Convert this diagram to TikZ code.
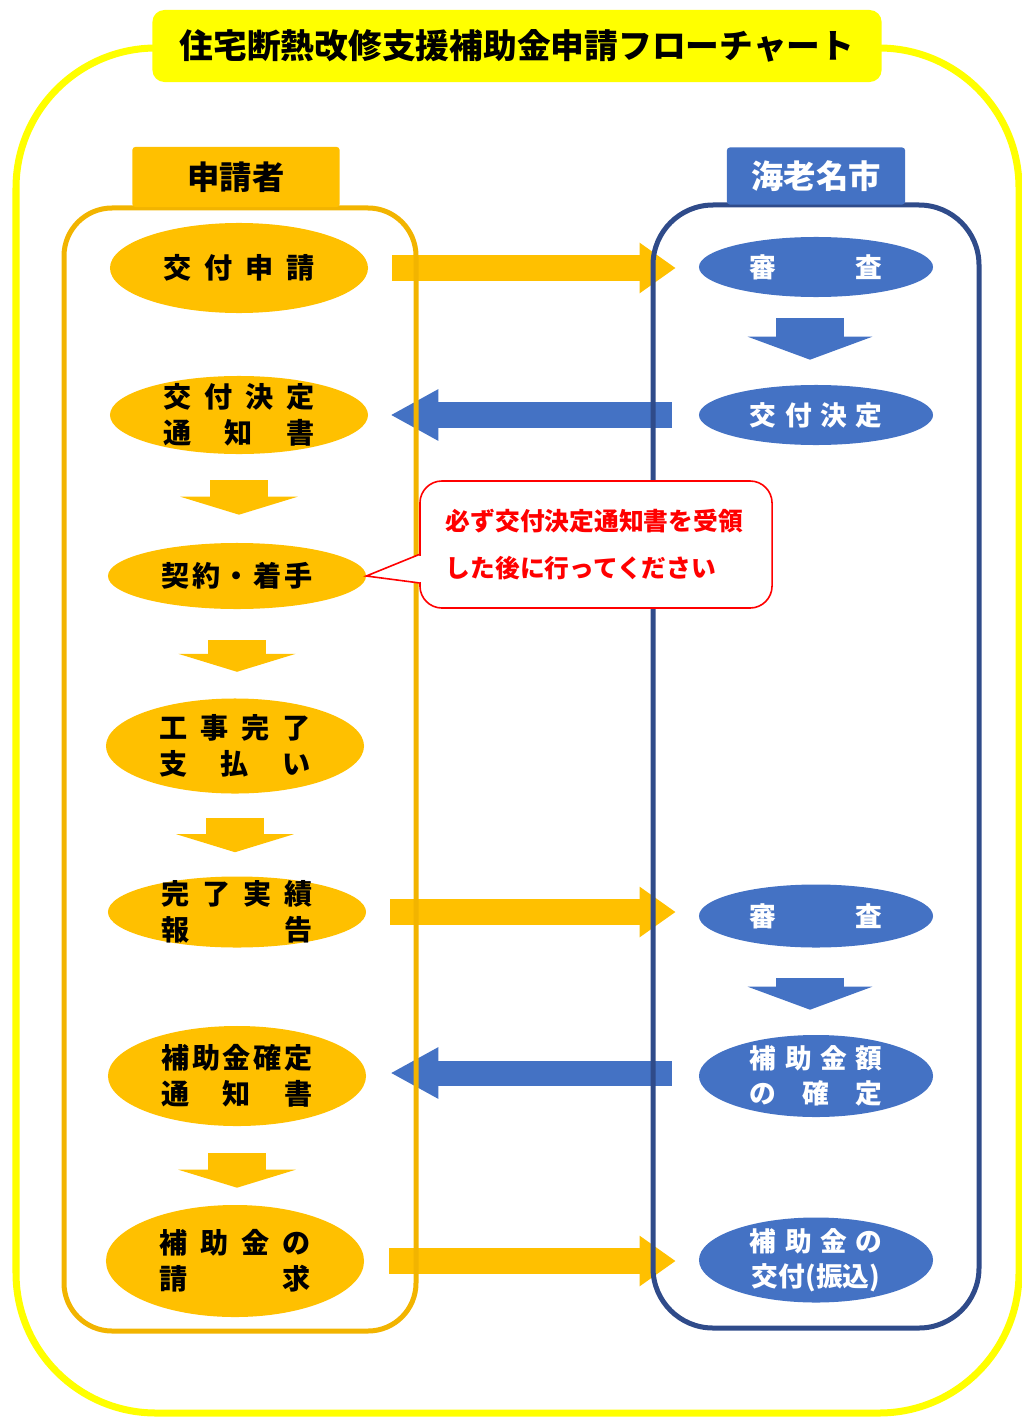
\documentclass[tikz,border=0pt]{standalone}
\usepackage{fontspec}
\newfontfamily\jp{Noto Sans CJK JP}
\usetikzlibrary{arrows.meta,shapes.geometric,positioning}
\definecolor{myorange}{HTML}{FFC000}
\definecolor{laneorange}{HTML}{F2B400}
\definecolor{myblue}{HTML}{4472C4}
\definecolor{lanenavy}{HTML}{2F4B8A}
\definecolor{lemon}{HTML}{FFFF00}
\newcommand{\stepl}[1]{\makebox[108pt][s]{#1}}
\newcommand{\stepr}[1]{\makebox[94pt][s]{#1}}
\tikzset{
  lstep/.style={ellipse, fill=myorange, inner sep=0pt, minimum width=6.45cm},
  rstep/.style={ellipse, fill=myblue, inner sep=0pt, minimum width=5.85cm},
  ltext/.style={font=\jp\bfseries\fontsize{20}{25.6}\selectfont, align=center, text=black, inner sep=0pt},
  rtext/.style={font=\jp\bfseries\fontsize{19}{25}\selectfont, align=center, text=white, inner sep=0pt},
  title/.style={fill=lemon, rounded corners=0.3cm, minimum width=18.225cm, minimum height=1.8cm,
    font=\jp\bfseries\fontsize{24}{28}\selectfont},
  lhead/.style={fill=myorange, rounded corners=2pt, minimum width=5.175cm, minimum height=1.5cm,
    font=\jp\bfseries\fontsize{23}{26}\selectfont},
  rhead/.style={fill=myblue, text=white, rounded corners=2pt, minimum width=4.45cm, minimum height=1.425cm,
    font=\jp\bfseries\fontsize{23}{26}\selectfont},
  oarrow/.style={myorange, line width=0.65cm, -{Triangle[length=0.9cm,width=1.2cm]}},
  barrow/.style={myblue, line width=0.625cm, -{Triangle[length=1.2cm,width=1.2cm]}},
  odown/.style={myorange, line width=1.425cm, -{Triangle[length=0.45cm,width=2.925cm]}},
  bdown/.style={myblue, line width=1.7cm, -{Triangle[length=0.575cm,width=3.1cm]}},
  lane/.style={line width=0.125cm},
  note/.style={draw=red, fill=white, line width=0.04cm, rounded corners=0.55cm,
    minimum width=8.8cm, minimum height=3.175cm, text width=7.5cm, align=left, text=red,
    font=\jp\bfseries\fontsize{17.6}{33.4}\selectfont}
}
\begin{document}
\begin{tikzpicture}[x=0.025cm,y=-0.025cm]
\useasboundingbox (0,0) rectangle (1021,1418);
\draw[lemon, line width=0.175cm, rounded corners=3.5cm] (16,48) rectangle (1019,1413);
\node[title] (head) at (517,46) {住宅断熱改修支援補助金申請フローチャート};

\node[lstep, minimum height=2.25cm] (a1) at (239,268) {};
\node[lstep, minimum height=1.95cm] (a2) at (239,415) {};
\node[lstep, minimum height=1.65cm] (a3) at (237,576) {};
\node[lstep, minimum height=2.375cm] (a4) at (235,746) {};
\node[lstep, minimum height=1.775cm] (a5) at (237,912) {};
\node[lstep, minimum height=2.5cm] (a6) at (237,1076) {};
\node[lstep, minimum height=2.8cm] (a7) at (235,1261) {};
\node[ltext] (a1t) at (a1) {\stepl{交\hfill 付\hfill 申\hfill 請}};
\node[ltext] (a2t) at (a2) {\stepl{交\hfill 付\hfill 決\hfill 定}\\\stepl{通\hfill 知\hfill 書}};
\node[ltext] (a3t) at (a3) {\stepl{契\hfill 約\hfill ・\hfill 着\hfill 手}};
\node[ltext] (a4t) at (a4) {\stepl{工\hfill 事\hfill 完\hfill 了}\\\stepl{支\hfill 払\hfill い}};
\node[ltext] (a5t) at (a5) {\stepl{完\hfill 了\hfill 実\hfill 績}\\\stepl{報\hfill 告}};
\node[ltext] (a6t) at (a6) {\stepl{補\hfill 助\hfill 金\hfill 確\hfill 定}\\\stepl{通\hfill 知\hfill 書}};
\node[ltext] (a7t) at (a7) {\stepl{補\hfill 助\hfill 金\hfill の}\\\stepl{請\hfill 求}};

\node[rstep, minimum height=1.5cm] (r1) at (816,267) {};
\node[rstep, minimum height=1.5cm] (r2) at (816,415) {};
\node[rstep, minimum height=1.575cm] (r3) at (816,916) {};
\node[rstep, minimum height=2.05cm] (r4) at (816,1076) {};
\node[rstep, minimum height=2.125cm] (r5) at (816,1260) {};
\node[rtext] (r1t) at (r1) {\stepr{審\hfill 査}};
\node[rtext] (r2t) at (r2) {\stepr{交\hfill 付\hfill 決\hfill 定}};
\node[rtext] (r3t) at (r3) {\stepr{審\hfill 査}};
\node[rtext] (r4t) at (r4) {\stepr{補\hfill 助\hfill 金\hfill 額}\\\stepr{の\hfill 確\hfill 定}};
\node[rtext] (r5t) at (r5) {\stepr{補\hfill 助\hfill 金\hfill の}\\\stepr{\hfill 交付(振込)\hfill}};

\draw[oarrow, shorten <=0.6cm, shorten >=0.575cm] (a1.east) -- (a1.east -| r1.west);
\draw[barrow, shorten <=0.675cm, shorten >=0.55cm] (r2.west) -- (r2.west -| a2.east);
\draw[oarrow, shorten <=0.6cm, shorten >=0.575cm] (a5.east) -- (a5.east -| r3.west);
\draw[barrow, shorten <=0.675cm, shorten >=0.6cm] ([yshift=0.075cm]r4.west) -- ([yshift=0.075cm]r4.west -| a6.east);
\draw[oarrow, shorten <=0.625cm, shorten >=0.575cm] (a7.east) -- (a7.east -| r5.west);

\draw[odown, shorten <=0.65cm, shorten >=0.7cm] (a2.south) -- (a2.south |- a3.north);
\draw[odown, shorten <=0.775cm, shorten >=0.66cm] (a3.south) -- (a3.south |- a4.north);
\draw[odown, shorten <=0.6cm, shorten >=0.6cm] (a4.south) -- (a4.south |- a5.north);
\draw[odown, shorten <=0.675cm, shorten >=0.425cm] (a6.south) -- (a6.south |- a7.north);
\draw[bdown, shorten <=0.525cm, shorten >=0.625cm] ([xshift=-0.15cm]r1.south) -- ([xshift=-0.15cm]r1.south |- r2.north);
\draw[bdown, shorten <=0.75cm, shorten >=0.625cm] ([xshift=-0.15cm]r3.south) -- ([xshift=-0.15cm]r3.south |- r4.north);

\draw[lane, laneorange, rounded corners=1.2cm] (64,208) rectangle (416,1331);
\draw[lane, lanenavy, rounded corners=1.5cm] (653,205) rectangle (979,1328);
\node[lhead] (applicant) at (236,177) {申請者};
\node[rhead] (city) at (816,176) {海老名市};

\node[note] (memo) at (596,544.5) {必ず交付決定通知書を受領\\した後に行ってください};
\filldraw[draw=red, fill=white, line width=0.04cm] ([yshift=-0.25cm]memo.west) -- (a3.east) -- ([yshift=-0.96cm]memo.west);
\fill[white] ([xshift=-0.02cm, yshift=-0.28cm]memo.west) rectangle ([xshift=0.06cm, yshift=-0.93cm]memo.west);
\end{tikzpicture}
\end{document}
